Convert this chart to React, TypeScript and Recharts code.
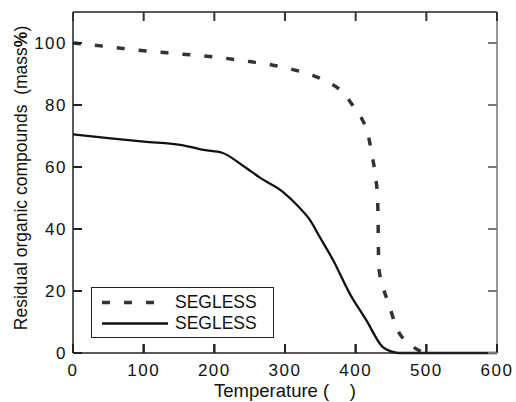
import React from "react";
import { LineChart, Line, XAxis, YAxis, Legend, ReferenceLine } from "recharts";

const dashedTemps = [0, 50, 100, 150, 200, 250, 280, 310, 340, 360, 380, 400, 410, 417, 423, 428, 431, 432, 432.5, 438, 448, 458, 470, 481, 495, 500];
const dashedValues = [100, 98.8, 97.5, 96.5, 95.5, 94, 93, 91.5, 89.5, 87.5, 84.5, 78.5, 75, 71, 64, 57, 50, 38, 28, 22, 15, 8, 4, 2, 0.3, 0];

const solidTemps = [0, 50, 100, 156, 185, 211, 240, 265, 297, 320, 335, 349, 368, 392, 415, 438, 450, 460, 600];
const solidValues = [70.5, 69.3, 68.2, 67, 65.5, 64.6, 60.5, 56.5, 52, 47, 43, 37.5, 30, 19, 10.6, 2, 0.5, 0, 0];

const xTicks = [0, 100, 200, 300, 400, 500, 600];
const yTicks = [0, 20, 40, 60, 80, 100];
const xMax = 600;
const yMax = 110;
const seriesName = "SEGLESS";

const dashedData = dashedTemps.map((t, i) => ({ t, v: dashedValues[i] }));
const solidData = solidTemps.map((t, i) => ({ t, v: solidValues[i] }));

// plot box (chart size minus axis sizes)
const W = 516;
const H = 402;
const LEFT = 73;
const RIGHT = W - 19;
const TOP = 12;
const BOTTOM = H - 49;
const TICK = 9;

// 9px inward tick length, in axis units
const xTickLen = (TICK * xMax) / (RIGHT - LEFT);
const yTickLen = (TICK * yMax) / (BOTTOM - TOP);

const font = "'Liberation Sans', Arial, sans-serif";

const bottomTick = (props: any) => (
  <g>
    <path d={`M${props.x},${BOTTOM}V${BOTTOM - TICK}`} stroke="#222" strokeWidth={2} />
    <path d={`M${props.x},${TOP}V${TOP + TICK}`} stroke="#333" strokeWidth={2} />
    <text x={props.x} y={props.y} dy="0.71em" textAnchor="middle" fontSize={17} letterSpacing={1.5} fill="#111" fontFamily={font}>
      {props.payload.value}
    </text>
  </g>
);

const leftTick = (props: any) => (
  <g>
    <path d={`M${LEFT},${props.y}H${LEFT + TICK}`} stroke="#222" strokeWidth={2} />
    <path d={`M${RIGHT},${props.y}H${RIGHT - TICK}`} stroke="#777" strokeWidth={2} />
    <text x={props.x} y={props.y} dy="0.355em" textAnchor="end" fontSize={17} letterSpacing={1.5} fill="#111" fontFamily={font}>
      {props.payload.value}
    </text>
  </g>
);

const LegendBox = ({ payload }: any) => (
  <div
    style={{
      position: "relative",
      width: 183,
      height: 51,
      border: "1px solid #222",
      background: "#fff",
      boxSizing: "border-box",
      fontFamily: font,
    }}
  >
    {(payload || []).map((p: any, i: number) => (
      <div key={i} style={{ position: "absolute", left: 0, top: 4 + i * 21, height: 21, width: 183 }}>
        <svg width={80} height={21} style={{ position: "absolute", left: 0, top: 0 }}>
          <line
            x1={10}
            x2={76}
            y1={10.5}
            y2={10.5}
            stroke={p.color}
            strokeWidth={p.payload?.strokeDasharray ? 3.5 : 2.3}
            strokeDasharray={p.payload?.strokeDasharray}
          />
        </svg>
        <span
          style={{
            position: "absolute",
            left: 83,
            top: 0,
            lineHeight: "21px",
            fontSize: 17.5,
            color: "#111",
          }}
        >
          {p.value}
        </span>
      </div>
    ))}
  </div>
);

const YLabel = () => (
  <text
    transform="translate(27,178) rotate(-90)"
    textAnchor="middle"
    fontSize={17.5}
    fontFamily={font}
    fill="#111"
  >
    Residual organic compounds{"\u00a0\u00a0"}(mass<tspan fontWeight="bold">%</tspan>)
  </text>
);

const XLabel = () => (
  <text x={285} y={397} textAnchor="middle" fontSize={18.5} fontFamily={font} fill="#111">
    {"Temperature (\u00a0\u00a0\u00a0\u00a0)"}
  </text>
);

export default function App() {
  return (
    <div style={{ position: "absolute", left: 0, top: 0 }}>
      <LineChart width={W} height={H} margin={{ top: TOP, right: W - RIGHT, bottom: 0, left: 0 }}>
        <XAxis
          dataKey="t"
          type="number"
          domain={[0, xMax]}
          ticks={xTicks}
          height={49}
          axisLine={{ stroke: "#222", strokeWidth: 1.5 }}
          tickLine={{ stroke: "none" }}
          tickMargin={5}
          tick={bottomTick}
          label={<XLabel />}
        />
        <YAxis
          type="number"
          domain={[0, yMax]}
          ticks={yTicks}
          width={LEFT}
          axisLine={{ stroke: "#222", strokeWidth: 1.5 }}
          tickLine={{ stroke: "none" }}
          tickMargin={0}
          tick={leftTick}
          label={<YLabel />}
        />
        <ReferenceLine y={yMax} stroke="#222" strokeWidth={1.5} ifOverflow="visible" />
        <ReferenceLine x={xMax} stroke="#777" strokeWidth={1.5} ifOverflow="visible" />
        {xTicks.map((t) => (
          <ReferenceLine
            key={`xb-${t}`}
            segment={[{ x: t, y: 0 }, { x: t, y: yTickLen }]}
            stroke="#222"
            strokeWidth={2}
            ifOverflow="visible"
          />
        ))}
        {yTicks.map((v) => (
          <ReferenceLine
            key={`yl-${v}`}
            segment={[{ x: 0, y: v }, { x: xTickLen, y: v }]}
            stroke="#222"
            strokeWidth={2}
            ifOverflow="visible"
          />
        ))}
        <Legend
          layout="vertical"
          align="center"
          verticalAlign="middle"
          content={<LegendBox />}
          wrapperStyle={{ position: "absolute", left: 91, top: 287, width: 183, height: 51 }}
        />
        <Line
          data={dashedData}
          dataKey="v"
          name={seriesName}
          type="monotone"
          stroke="#333"
          strokeWidth={3.5}
          strokeDasharray="8 14"
          dot={false}
          isAnimationActive={false}
        />
        <Line
          data={solidData}
          dataKey="v"
          name={seriesName}
          type="monotone"
          stroke="#111"
          strokeWidth={2.3}
          dot={false}
          isAnimationActive={false}
        />
      </LineChart>
    </div>
  );
}
